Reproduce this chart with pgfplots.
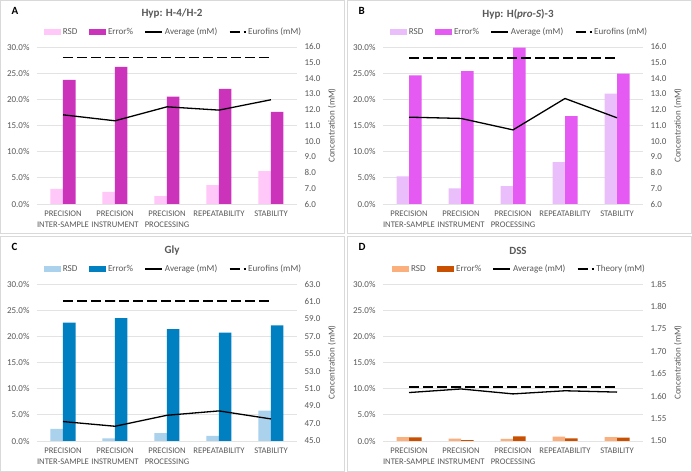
\documentclass[border=0pt]{standalone}
\usepackage{pgfplots}
\pgfplotsset{compat=1.18}
\usepackage{fontspec}
\setmainfont{Carlito}
\definecolor{tk}{HTML}{595959}
\definecolor{gridc}{HTML}{E3E3E3}
\definecolor{framec}{HTML}{D9D9D9}
\definecolor{aRSD}{HTML}{FFC8F8}
\definecolor{aERR}{HTML}{CC33BB}
\definecolor{bRSD}{HTML}{EABEFA}
\definecolor{bERR}{HTML}{E45AF2}
\definecolor{cRSD}{HTML}{AAD2EC}
\definecolor{cERR}{HTML}{0080C0}
\definecolor{dRSD}{HTML}{FAAF7D}
\definecolor{dERR}{HTML}{C85000}

\pgfplotstableread{
x rsd err avg ref
0 2.9 23.7 11.68 15.32
1 2.3 26.2 11.30 15.32
2 1.5 20.5 12.19 15.32
3 3.6 22.0 11.98 15.32
4 6.3 17.6 12.64 15.32
}\dataA
\pgfplotstableread{
x rsd err avg ref
0 5.3 24.6 11.53 15.30
1 3.0 25.4 11.45 15.30
2 3.4 29.9 10.72 15.30
3 8.0 16.8 12.72 15.30
4 21.1 24.9 11.49 15.30
}\dataB
\pgfplotstableread{
x rsd err avg ref
0 2.3 22.6 47.23 61.05
1 0.5 23.5 46.69 61.05
2 1.5 21.4 47.95 61.05
3 1.0 20.7 48.45 61.05
4 5.8 22.1 47.53 61.05
}\dataC
\pgfplotstableread{
x rsd err avg ref
0 0.75 0.70 1.608 1.620
1 0.45 0.15 1.616 1.620
2 0.40 0.90 1.605 1.620
3 0.85 0.50 1.612 1.620
4 0.75 0.65 1.609 1.620
}\dataD

\pgfplotsset{
  /pgf/number format/assume math mode=true,
  common/.style={
    scale only axis, width=260bp, height=157bp,
    xmin=-0.5, xmax=4.5,
    axis line style={draw=none},
    tick style={draw=none},
    ticklabel style={font=\fontsize{9bp}{10bp}\selectfont, text=tk},
  },
  baraxis/.style={
    common,
    ymin=0, ymax=30, ytick={0,5,...,30},
    ymajorgrids, major grid style={draw=gridc, line width=0.8bp},
    yticklabel={\pgfmathprintnumber[fixed,fixed zerofill,precision=1]{\tick}\%},
    yticklabel style={xshift=-4bp},
    xtick={0,1,2,3,4},
    xticklabels={{PRECISION\\INTER-SAMPLE},{PRECISION\\INSTRUMENT},{PRECISION\\PROCESSING},REPEATABILITY,STABILITY},
    xticklabel style={align=center, font=\fontsize{8.6bp}{11.5bp}\selectfont, text=tk, yshift=-3bp},
    legend columns=4,
    legend style={draw=none, fill=none, at={(0.525,1.096)}, anchor=center,
      font=\fontsize{9.1bp}{10bp}\selectfont, text=tk,
      /tikz/every even column/.append style={column sep=9.5bp},
      /tikz/inner sep=1bp},
  },
  lineaxis/.style={
    common,
    xtick=\empty,
    ytick pos=right, yticklabel pos=right,
    yticklabel style={xshift=4bp},
    ylabel={Concentration (mM)},
    every axis y label/.style={at={(rel axis cs:1,0.5)}, xshift=35bp, rotate=90, anchor=center,
      font=\fontsize{9bp}{10bp}\selectfont, text=tk},
  },
  rsdbar/.style={ybar, bar width=12.5bp, bar shift=-6.25bp, draw=none, fill=#1,
    legend image code/.code={\fill[fill=#1] (0bp,-2.6bp) rectangle (17bp,2.6bp);}},
  errbar/.style={ybar, bar width=12.5bp, bar shift=6.25bp, draw=none, fill=#1,
    legend image code/.code={\fill[fill=#1] (0bp,-2.6bp) rectangle (17bp,2.6bp);}},
  avgline/.style={black, line width=1.3bp, mark=none},
  refline/.style={black, line width=1.5bp, mark=none, dash pattern=on 10bp off 4bp},
  avgleg/.style={legend image code/.code={\draw[black, line width=1.3bp] (0bp,0bp) -- (17bp,0bp);}},
  refleg/.style={legend image code/.code={\draw[black, line width=1.5bp, dash pattern=on 10bp off 4bp] (0bp,0bp) -- (16bp,0bp);}},
}

\begin{document}
\begin{tikzpicture}
\useasboundingbox (0bp,0bp) rectangle (692bp,472bp);
\fill[white] (0bp,0bp) rectangle (692bp,472bp);
\draw[framec, line width=0.8bp] (0.5bp,238.5bp) rectangle (344.5bp,471.5bp);
\draw[framec, line width=0.8bp] (347.5bp,238.5bp) rectangle (691.5bp,471.5bp);
\draw[framec, line width=0.8bp] (0.5bp,0.5bp) rectangle (344.5bp,235.5bp);
\draw[framec, line width=0.8bp] (347.5bp,0.5bp) rectangle (691.5bp,235.5bp);

% ---------- Panel A
\node[anchor=west, font=\fontsize{11bp}{12bp}\selectfont\bfseries] at (8bp,461bp) {A};
\node[font=\fontsize{11bp}{12bp}\selectfont\bfseries, text=tk] at (172bp,458bp) {Hyp: H-4/H-2};
\begin{axis}[baraxis, at={(37bp,268bp)}, anchor=south west]
\addplot[rsdbar=aRSD] table[x=x,y=rsd]{\dataA};
\addplot[errbar=aERR] table[x=x,y=err]{\dataA};
\addlegendimage{avgleg}
\addlegendimage{refleg}
\legend{RSD, Error\%, Average (mM), Eurofins (mM)}
\end{axis}
\begin{axis}[lineaxis, at={(37bp,268bp)}, anchor=south west, ymin=6, ymax=16, ytick={6,7,...,16},
  yticklabel style={/pgf/number format/.cd, fixed, fixed zerofill, precision=1}]
\addplot[refline] table[x=x,y=ref]{\dataA};
\addplot[avgline] table[x=x,y=avg]{\dataA};
\end{axis}

% ---------- Panel B
\node[anchor=west, font=\fontsize{11bp}{12bp}\selectfont\bfseries] at (355bp,461bp) {B};
\node[font=\fontsize{11bp}{12bp}\selectfont\bfseries, text=tk] at (518bp,458bp) {Hyp: H(\textit{pro-S})-3};
\begin{axis}[baraxis, at={(383bp,268bp)}, anchor=south west]
\addplot[rsdbar=bRSD] table[x=x,y=rsd]{\dataB};
\addplot[errbar=bERR] table[x=x,y=err]{\dataB};
\addlegendimage{avgleg}
\addlegendimage{refleg}
\legend{RSD, Error\%, Average (mM), Eurofins (mM)}
\end{axis}
\begin{axis}[lineaxis, at={(383bp,268bp)}, anchor=south west, ymin=6, ymax=16, ytick={6,7,...,16},
  yticklabel style={/pgf/number format/.cd, fixed, fixed zerofill, precision=1}]
\addplot[refline] table[x=x,y=ref]{\dataB};
\addplot[avgline] table[x=x,y=avg]{\dataB};
\end{axis}

% ---------- Panel C
\node[anchor=west, font=\fontsize{11bp}{12bp}\selectfont\bfseries] at (8bp,225bp) {C};
\node[font=\fontsize{11bp}{12bp}\selectfont\bfseries, text=tk] at (172bp,221bp) {Gly};
\begin{axis}[baraxis, at={(37bp,31bp)}, anchor=south west]
\addplot[rsdbar=cRSD] table[x=x,y=rsd]{\dataC};
\addplot[errbar=cERR] table[x=x,y=err]{\dataC};
\addlegendimage{avgleg}
\addlegendimage{refleg}
\legend{RSD, Error\%, Average (mM), Eurofins (mM)}
\end{axis}
\begin{axis}[lineaxis, at={(37bp,31bp)}, anchor=south west, ymin=45, ymax=63, ytick={45,47,...,63},
  yticklabel style={/pgf/number format/.cd, fixed, fixed zerofill, precision=1}]
\addplot[refline] table[x=x,y=ref]{\dataC};
\addplot[avgline] table[x=x,y=avg]{\dataC};
\end{axis}

% ---------- Panel D
\node[anchor=west, font=\fontsize{11bp}{12bp}\selectfont\bfseries] at (355bp,225bp) {D};
\node[font=\fontsize{11bp}{12bp}\selectfont\bfseries, text=tk] at (518bp,221bp) {DSS};
\begin{axis}[baraxis, at={(383bp,31bp)}, anchor=south west]
\addplot[rsdbar=dRSD] table[x=x,y=rsd]{\dataD};
\addplot[errbar=dERR] table[x=x,y=err]{\dataD};
\addlegendimage{avgleg}
\addlegendimage{refleg}
\legend{RSD, Error\%, Average (mM), Theory (mM)}
\end{axis}
\begin{axis}[lineaxis, at={(383bp,31bp)}, anchor=south west, ymin=1.5, ymax=1.85, ytick={1.50,1.55,...,1.86},
  yticklabel style={/pgf/number format/.cd, fixed, fixed zerofill, precision=2}]
\addplot[refline] table[x=x,y=ref]{\dataD};
\addplot[avgline] table[x=x,y=avg]{\dataD};
\end{axis}
\end{tikzpicture}
\end{document}
